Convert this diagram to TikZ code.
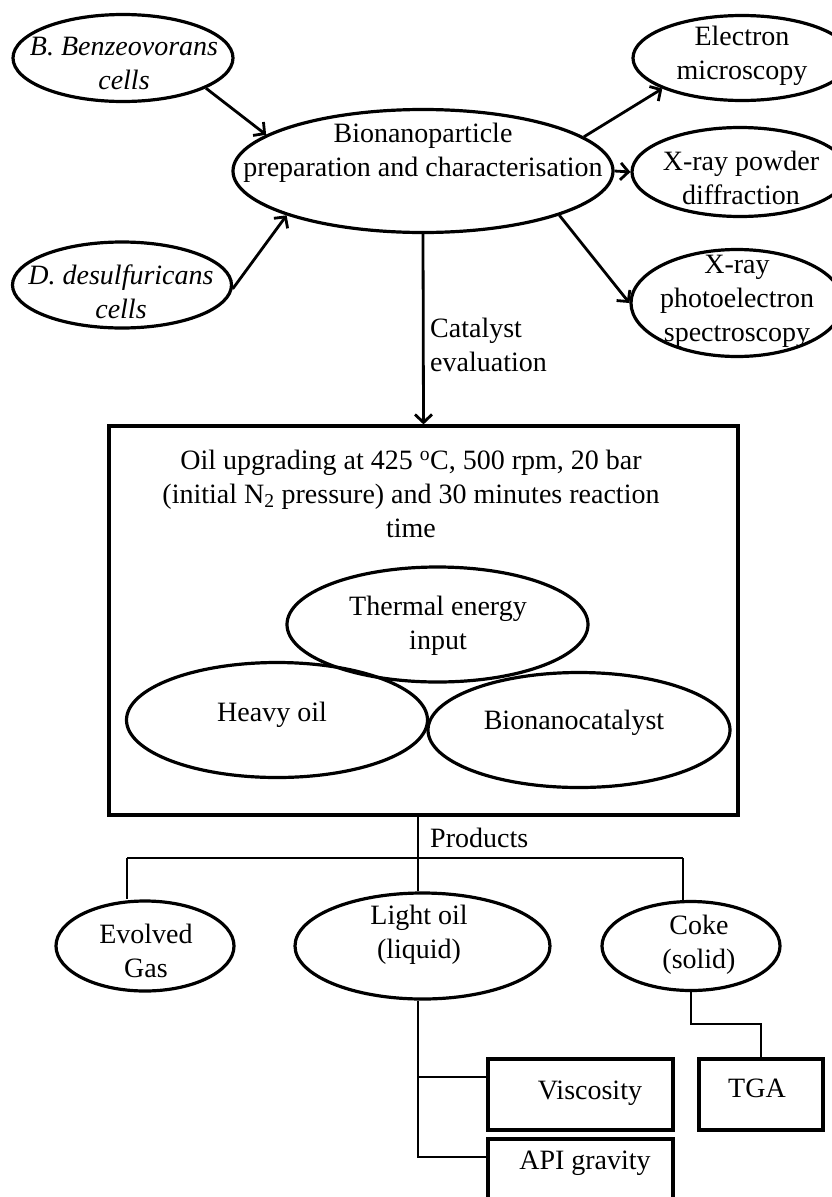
\documentclass[tikz,border=0pt]{standalone}
\usepackage{fontspec}
\setmainfont{Liberation Serif}
\usetikzlibrary{shapes.geometric,arrows.meta,calc}
\begin{document}
\begin{tikzpicture}[x=1pt,y=-1pt,
  font=\fontsize{28pt}{34pt}\selectfont,
  ell/.style={draw,ellipse,line width=3.2pt,inner sep=0pt},
  boxnode/.style={draw,rectangle,line width=3.2pt,inner sep=0pt},
  txt/.style={align=center,inner sep=0pt},
  itxt/.style={txt,font=\fontsize{28pt}{34pt}\selectfont\itshape},
  conn/.style={line width=2.8pt},
  arr/.style={conn,-{Straight Barb[length=8pt,width=17pt]}}]
\useasboundingbox (0,0) rectangle (832,1197);
\clip (0,0) rectangle (832,1197);

% top part
\node[ell,minimum width=220pt,minimum height=87pt] (bcells) at (123,58) {};
\node[itxt] (bcells-t) at (124,63) {B. Benzeovorans\\cells};
\node[ell,minimum width=219pt,minimum height=86pt] (dcells) at (122,285) {};
\node[itxt] (dcells-t) at (121,292) {D. desulfuricans\\cells};
\node[ell,minimum width=380pt,minimum height=123pt] (bionano) at (423,171) {};
\node[txt] (bionano-t) at (423,153) {Bionanoparticle\\preparation and characterisation};
\node[ell,minimum width=218pt,minimum height=85pt] (em) at (742,58) {};
\node[txt] (em-t) at (742,56) {Electron\\microscopy};
\node[ell,minimum width=216pt,minimum height=89pt] (xrd) at (740,172) {};
\node[txt] (xrd-t) at (741,178) {X-ray powder\\diffraction};
\node[ell,minimum width=212pt,minimum height=107pt] (xps) at (737,303) {};
\node[txt] (xps-t) at (737,301) {X-ray\\photoelectron\\spectroscopy};

\draw[arr] (bcells.-20) -- (bionano.167.7);
\draw[arr] (dcells.-2) -- (bionano.198.7);
\draw[arr] (bionano.12.7) -- (em.201.3);
\draw[arr] (bionano.0) -- (xrd.180);
\draw[arr] (bionano.-18.8) -- (xps.180);

% reactor box
\node[boxnode,minimum width=629pt,minimum height=389pt] (reactor) at (423.5,620.5) {};
\draw[arr] (bionano.south) -- (reactor.north);
\node[txt,anchor=west,align=left] (catal) at (430,345) {Catalyst\\evaluation};
\node[txt] (title) at (411,494) {Oil upgrading at 425 \textsuperscript{o}C, 500 rpm, 20 bar\\(initial N\textsubscript{2} pressure) and 30 minutes reaction\\time};
\node[ell,minimum width=301pt,minimum height=115pt] (thermal) at (437.5,624.5) {};
\node[txt] (thermal-t) at (438,626) {Thermal energy\\input};
\node[ell,minimum width=301pt,minimum height=115pt] (heavy) at (277,720) {};
\node[txt] (heavy-t) at (272,715) {Heavy oil};
\node[ell,minimum width=302pt,minimum height=115pt] (bcat) at (579,730) {};
\node[txt] (bcat-t) at (574,723) {Bionanocatalyst};

% products
\coordinate (split) at (418,858);
\coordinate (hl) at (127,858);
\coordinate (hr) at (683,858);
\node[txt,anchor=west] (products) at (430,838) {Products};
\node[ell,minimum width=178pt,minimum height=90pt] (gas) at (145,946) {};
\node[txt] (gas-t) at (146,951) {Evolved\\Gas};
\node[ell,minimum width=255pt,minimum height=106pt] (lightoil) at (422.5,946) {};
\node[txt] (lightoil-t) at (419,935) {Light oil\\(liquid)};
\node[ell,minimum width=178pt,minimum height=89pt] (coke) at (691,946) {};
\node[txt] (coke-t) at (699,945) {Coke\\(solid)};

\draw[conn] (reactor.south -| split) -- (split |- lightoil.north);
\draw[conn] (hl) -- (hr);
\draw[conn] (hl) -- (hl |- gas.north);
\draw[conn] (hr) -- (hr |- coke.north);

% analyses
\node[boxnode,minimum width=185pt,minimum height=71pt] (visc) at (580.5,1094.5) {};
\node[txt] (visc-t) at (590,1093) {Viscosity};
\node[boxnode,minimum width=185pt,minimum height=71pt] (api) at (580.5,1174.5) {};
\node[txt] (api-t) at (585,1163) {API gravity};
\node[boxnode,minimum width=124pt,minimum height=71pt] (tga) at (761,1094.5) {};
\node[txt] (tga-t) at (757,1088) {TGA};

\coordinate (vb) at (418,1077);
\coordinate (ab) at (418,1157);
\coordinate (ct) at (0,1024);
\draw[conn] (split |- lightoil.south) -- (ab) -- (ab -| api.west);
\draw[conn] (vb) -- (vb -| visc.west);
\draw[conn] (coke.south) -- (coke.south |- ct) -| (tga.north);
\end{tikzpicture}
\end{document}
